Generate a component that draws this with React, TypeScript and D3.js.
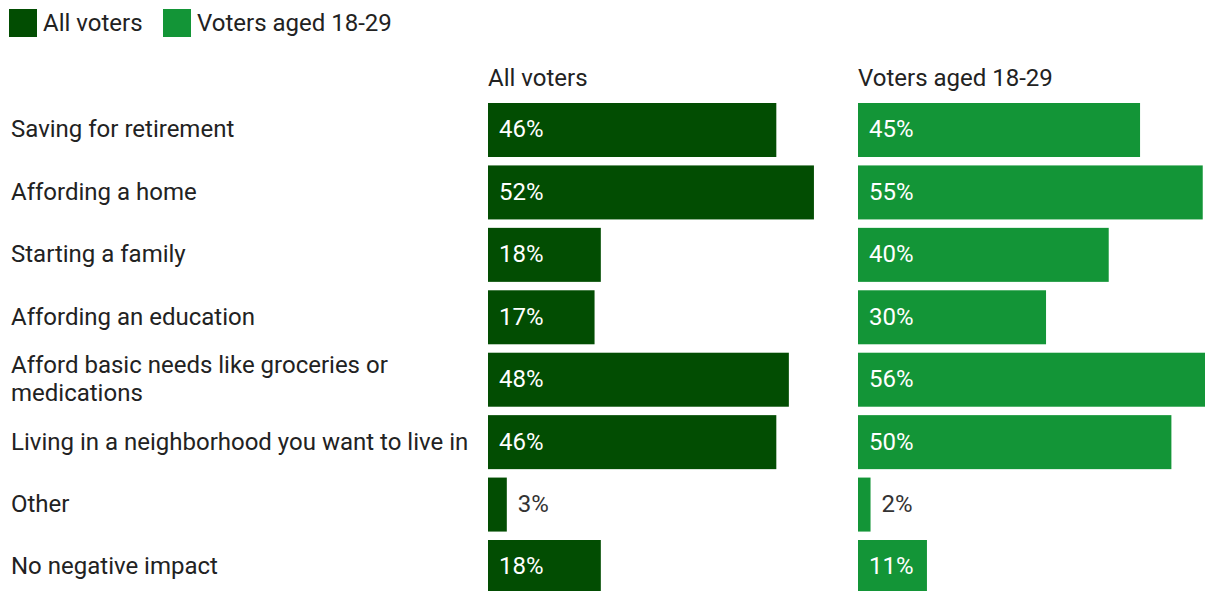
import React from "react";
import * as d3 from "d3";

const categories: string[][] = [
  ["Saving for retirement"],
  ["Affording a home"],
  ["Starting a family"],
  ["Affording an education"],
  ["Afford basic needs like groceries or", "medications"],
  ["Living in a neighborhood you want to live in"],
  ["Other"],
  ["No negative impact"],
];
const allVoters = [46, 52, 18, 17, 48, 46, 3, 18];
const young = [45, 55, 40, 30, 56, 50, 2, 11];
const seriesNames = ["All voters", "Voters aged 18-29"];
const colors = ["#024d02", "#139537"];

const W = 1205;
const H = 591;
const FONT = "Roboto, 'Noto Sans', sans-serif";
const TEXT = "#222";
const FS = 24;

export default function App() {
  const y = d3
    .scaleBand<number>()
    .domain(d3.range(categories.length))
    .range([103, 594])
    .paddingInner(0.135)
    .paddingOuter(0);
  const x = d3.scaleLinear().domain([0, 56]).range([0, 351]);
  const panels = [
    { x0: 488, values: allVoters, color: colors[0], name: seriesNames[0] },
    { x0: 858, values: young, color: colors[1], name: seriesNames[1] },
  ];
  const legendX = [9, 163];
  return (
    <div style={{ position: "absolute", left: 0, top: 0, width: W, height: H, background: "#fff" }}>
      <svg width={W} height={H} style={{ display: "block", fontFamily: FONT }}>
        <rect width={W} height={H} fill="#fff" />
        {seriesNames.map((n, i) => (
          <g key={n}>
            <rect x={legendX[i]} y={9} width={28} height={28} fill={colors[i]} />
            <text x={legendX[i] + 34} y={31} fontSize={FS} fill={TEXT}>
              {n}
            </text>
          </g>
        ))}
        {categories.map((lines, i) => {
          const cy = (y(i) as number) + y.bandwidth() / 2 - 1;
          const lh = 28;
          const start = cy - ((lines.length - 1) * lh) / 2;
          return (
            <text key={i} x={11} fontSize={FS} fill={TEXT}>
              {lines.map((l, j) => (
                <tspan key={j} x={11} y={start + j * lh} dy="0.35em">
                  {l}
                </tspan>
              ))}
            </text>
          );
        })}
        {panels.map((p) => (
          <g key={p.name} transform={`translate(${p.x0},0)`}>
            <text x={0} y={86} fontSize={FS} fill={TEXT}>
              {p.name}
            </text>
            {p.values.map((v, i) => {
              const w = x(v);
              const by = y(i) as number;
              const inside = w > 50;
              return (
                <g key={i}>
                  <rect x={0} y={by} width={w} height={y.bandwidth()} fill={p.color} />
                  <text
                    x={inside ? 11 : w + 11}
                    y={by + y.bandwidth() / 2 - 1}
                    dy="0.35em"
                    fontSize={FS}
                    fill={inside ? "#fff" : "#333"}
                  >
                    {v}%
                  </text>
                </g>
              );
            })}
          </g>
        ))}
      </svg>
    </div>
  );
}
